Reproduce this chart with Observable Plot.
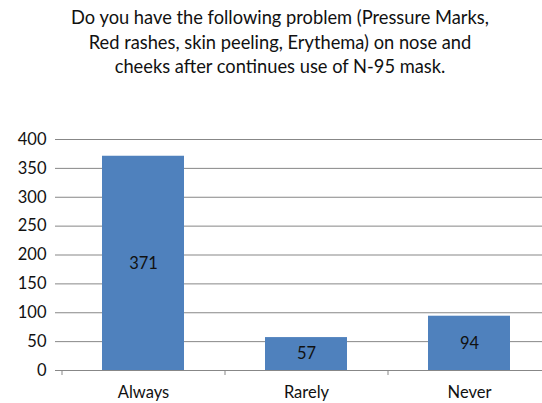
<!DOCTYPE html>
<html>
<head>
<meta charset="utf-8">
<script src="https://cdn.jsdelivr.net/npm/d3@7"></script>
<script src="https://cdn.jsdelivr.net/npm/@observablehq/plot@0.6"></script>
<style>
  html, body { margin: 0; padding: 0; background: #fff; overflow: hidden; }
  body { width: 542px; height: 403px; font-family: Lato, "Open Sans", sans-serif; }
  #title { height: 88px; box-sizing: border-box; padding-top: 5px; text-align: center; font-size: 18.3px; line-height: 24.5px; color: #111; padding-left: 18px; white-space: nowrap; }
  svg { display: block; overflow: visible; }
</style>
</head>
<body>
<div id="title">Do you have the following problem (Pressure Marks,<br>Red rashes, skin peeling, Erythema) on nose and<br>cheeks after continues use of N-95 mask.</div>
<div id="chart"></div>
<script>
const categories = ["Always", "Rarely", "Never"];
const values = [371, 57, 94];
const yTicks = [0, 50, 100, 150, 200, 250, 300, 350, 400];

const data = categories.map((c, i) => ({category: c, value: values[i]}));

const chart = Plot.plot({
  width: 542,
  height: 315,
  marginTop: 51,
  marginBottom: 33,
  marginLeft: 61,
  marginRight: 0,
  style: {fontFamily: "Lato, 'Open Sans', sans-serif", fontSize: "16.5px", color: "#111", overflow: "visible"},
  x: {domain: categories, range: [61, 550], paddingInner: 0.5, paddingOuter: 0.25, label: null},
  y: {domain: [0, 400], label: null},
  marks: [
    Plot.ruleY(yTicks, {stroke: "#878787", strokeWidth: 1}),
    Plot.barY(data, {x: "category", y: "value", fill: "#4f81bd"}),
    Plot.text(data, {x: "category", y: d => d.value / 2, text: d => String(d.value), fill: "#111", fontSize: 16.5}),
    Plot.ruleX([0], {x: () => 0, stroke: "#878787"}),
    Plot.axisY({ticks: yTicks, tickSize: 6, tickPadding: 9, stroke: "#878787", fill: "#111", fontSize: 16.5, label: null}),
    Plot.axisX({tickSize: 5, tickFormat: () => "", dx: -81.5, stroke: "#878787", label: null}),
    Plot.axisX({tickSize: 0, tickPadding: 16, fill: "#111", fontSize: 16.5, label: null})
  ]
});
document.getElementById("chart").appendChild(chart);
</script>
</body>
</html>
